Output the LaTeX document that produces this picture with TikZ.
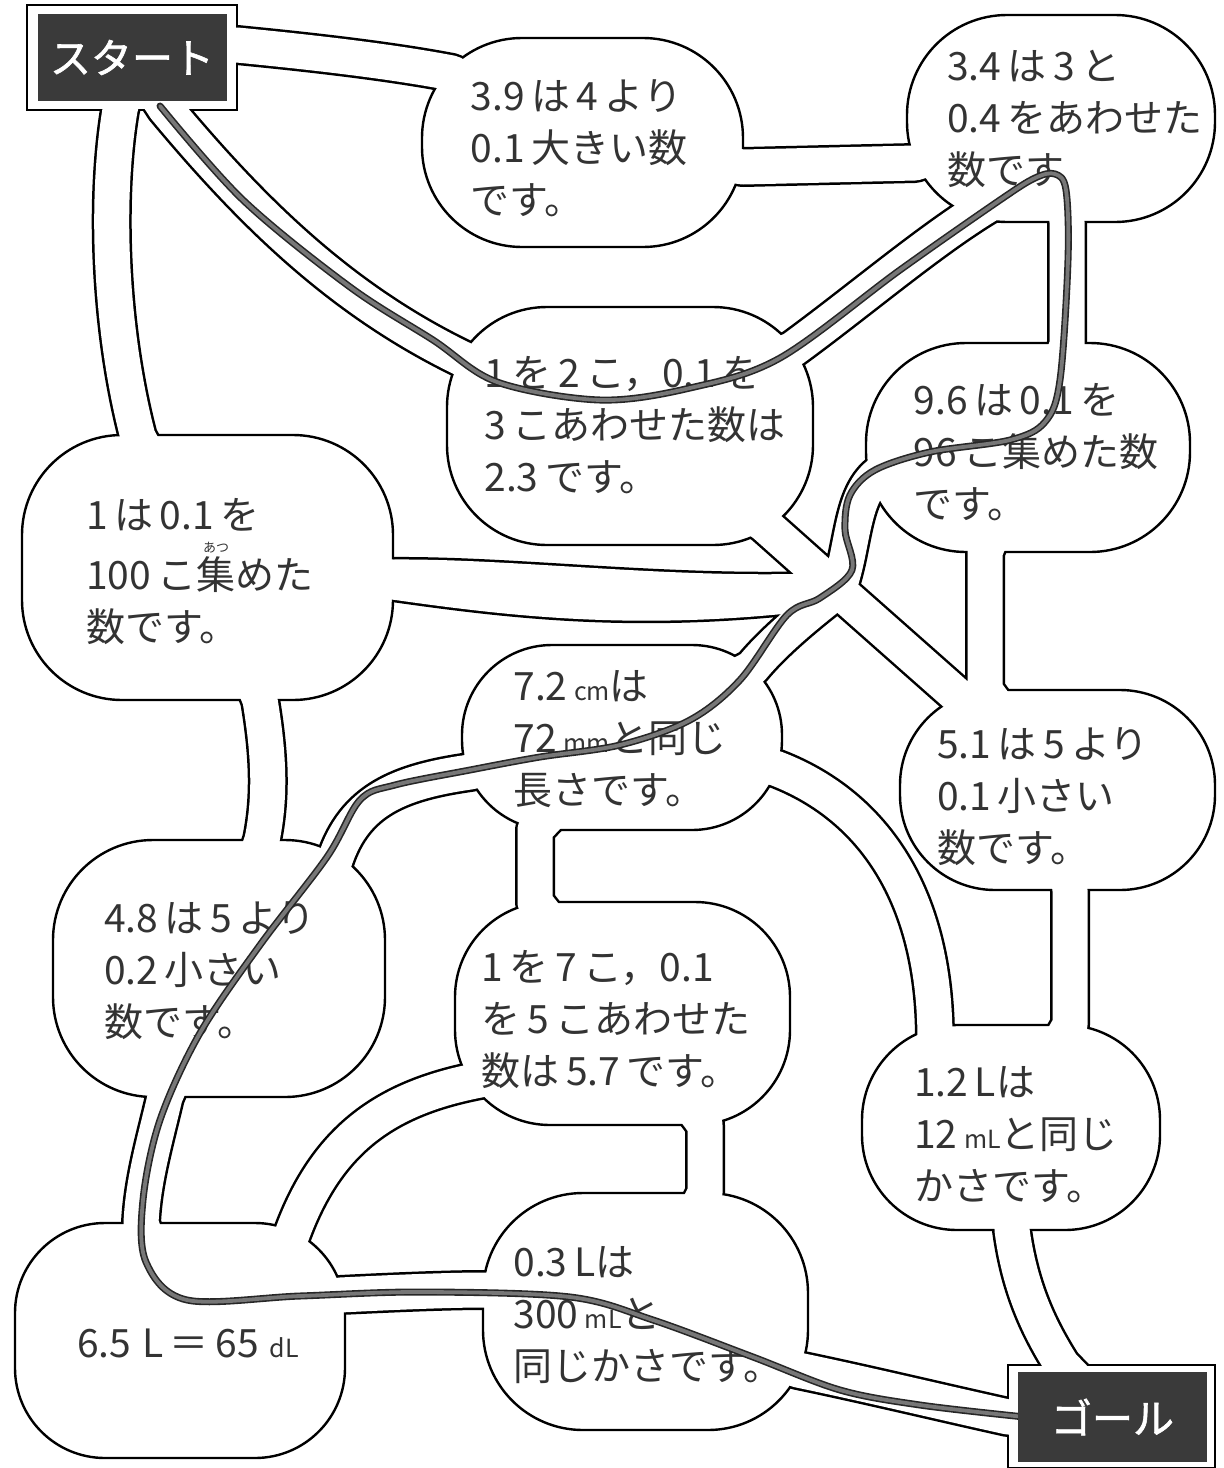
\documentclass[tikz,border=0pt]{standalone}
\usepackage{fontspec}
\newfontfamily\jpf{Noto Sans CJK JP}
\newfontfamily\jpbf[FakeBold=1.5]{Noto Sans CJK JP}
\usetikzlibrary{calc}
\definecolor{mzInk}  {HTML}{333333}
\definecolor{mzPlate}{HTML}{3A3A3A}
\definecolor{mzRoute}{HTML}{777777}
\pgfdeclarelayer{edges}
\pgfdeclarelayer{lanes}
\pgfdeclarelayer{labels}
\pgfsetlayers{edges,main,lanes,labels}
\newcommand{\mzunit}[1]{{\fontsize{25}{25}\selectfont #1}}
\newcommand{\mzruby}[2]{\leavevmode\rlap{\makebox[1em]{\raisebox{0.95em}{\fontsize{13}{13}\selectfont #2}}}#1}
% all roads of the maze, drawn twice (black edge, white lane)
\newcommand{\mzroads}{%
  (start.center) -- (237,45) .. controls (330,54) and (400,63) .. (452,73) -- (q39.center)
  (q39.center) -- (743,167) -- (915,163) -- (q34.center)
  (start.center) -- (120,110) .. controls (105,200) and (110,330) .. (138,437) -- (q100.center)
  (start.center) -- (165,108) .. controls (250,210) and (340,300) .. (465,360) -- (q23.center)
  (q23.center) -- (793,349) .. controls (860,300) and (930,240) .. (988,205) -- (q34.center)
  (q34.center) -- (1067,222) -- (1067,345) -- (q96.center)
  (q96.center) -- (885,470) .. controls (850,490) and (855,545) .. (hub)
  (q23.center) -- (765,525) -- (hub)
  (q100.center) -- (393,577) .. controls (520,576) and (680,598) .. (hub)
  (q100.center) -- (393,582) .. controls (520,600) and (650,615) .. (hub)
  (hub) .. controls (810,612) and (775,640) .. (752,668) -- (q72.center)
  (hub) -- (968,705) -- (q51.center)
  (q96.center) -- (985,552) -- (985,690) -- (q51.center)
  (q51.center) -- (1070,890) -- (1070,1025) -- (q12.center)
  (q72.center) -- (535,830) -- (535,902) -- (q57.center)
  (q72.center) -- (775,768) .. controls (860,800) and (935,880) .. (935,1040) -- (q12.center)
  (q72.center) -- (470,772) .. controls (400,782) and (355,800) .. (335,860) -- (q48.center)
  (q100.center) -- (260,700) .. controls (270,760) and (270,800) .. (262,840) -- (q48.center)
  (q48.center) -- (165,1097) .. controls (155,1140) and (143,1180) .. (141,1223) -- (q65.center)
  (q57.center) -- (480,1080) .. controls (385,1098) and (325,1140) .. (290,1240) -- (q65.center)
  (q65.center) -- (340,1295) .. controls (400,1292) and (450,1290) .. (485,1290) -- (q03.center)
  (q57.center) -- (705,1125) -- (705,1193) -- (q03.center)
  (q03.center) -- (798,1370) .. controls (870,1385) and (940,1402) .. (1008,1417) -- (goal.center)
  (q12.center) -- (1012,1230) .. controls (1020,1290) and (1040,1330) .. (1062,1365) -- (goal.center)}

\begin{document}
\begin{tikzpicture}[x=1pt,y=-1pt,
    bubble/.style={draw=black,line width=2.4,fill=white,rounded corners=#1,inner sep=0,outer sep=0},
    frame/.style={draw=black,line width=2.4,fill=white,inner sep=0,outer sep=0},
    plate/.style={fill=mzPlate,text=white,font=\jpbf\fontsize{41}{41}\selectfont,inner sep=0,outer sep=0},
    quiz/.style={font=\jpf\fontsize{39}{52}\selectfont,text=mzInk,align=left,inner sep=0},
    laneedge/.style={draw=black,line width=40,line join=round,line cap=round},
    lanefill/.style={draw=white,line width=35,line join=round,line cap=round},
    route/.style={draw=black!85,line width=1.6,double=mzRoute,double distance=3.8,line join=round,line cap=round}]
  \useasboundingbox (0,0) rectangle (1224,1468);
  \begin{pgfonlayer}{edges}
    \fill[white] (0,0) rectangle (1224,1468);
  \end{pgfonlayer}

  % start / goal frames
  \node[frame,minimum width=210,minimum height=105] (start) at (132,57.5) {};
  \node[frame,minimum width=207,minimum height=103] (goal) at (1111.5,1416.5) {};

  % bubbles
  \node[bubble=100,minimum width=321,minimum height=209] (q39)  at (582.5,142.5) {};
  \node[bubble=100,minimum width=308,minimum height=207] (q34)  at (1061,118.5) {};
  \node[bubble=100,minimum width=366,minimum height=238] (q23)  at (630,426) {};
  \node[bubble=100,minimum width=324,minimum height=209] (q96)  at (1028,447.5) {};
  \node[bubble=100,minimum width=371,minimum height=265] (q100) at (207.5,567.5) {};
  \node[bubble=90, minimum width=320,minimum height=185] (q72)  at (622,737.5) {};
  \node[bubble=95, minimum width=315,minimum height=200] (q51)  at (1057.5,790) {};
  \node[bubble=100,minimum width=332,minimum height=257] (q48)  at (219,968.5) {};
  \node[bubble=95, minimum width=335,minimum height=223] (q57)  at (622.5,1013.5) {};
  \node[bubble=95, minimum width=298,minimum height=205] (q12)  at (1011,1127.5) {};
  \node[bubble=100,minimum width=325,minimum height=237] (q03)  at (645.5,1311.5) {};
  \node[bubble=90, minimum width=330,minimum height=235] (q65)  at (180,1340.5) {};
  \coordinate (hub) at (838,590);

  % roads
  \begin{pgfonlayer}{edges}
    \draw[laneedge] \mzroads;
  \end{pgfonlayer}
  \begin{pgfonlayer}{lanes}
    \draw[lanefill] \mzroads;
  \end{pgfonlayer}

  \begin{pgfonlayer}{labels}
    \node[quiz] (t39)  at (579,148)  {3.9\,は\,4\,より\\0.1\,大きい数\\です。};
    \node[quiz] (t34)  at (1075,119) {3.4\,は\,3\,と\\0.4\,をあわせた\\数です};
    \node[quiz] (t23)  at (635,425)  {1\,を\,2\,こ，0.1\,を\\3\,こあわせた数は\\2.3\,です。};
    \node[quiz] (t96)  at (1036,452) {9.6\,は\,0.1\,を\\96\,こ集めた数\\です。};
    \node[quiz] (t100) at (200,572)  {1\,は\,0.1\,を\\[8pt]100\,こ\mzruby{集}{あつ}めた\\数です。};
    \node[quiz] (t72)  at (620,739)  {7.2\,\mzunit{cm}は\\72\,\mzunit{mm}と同じ\\長さです。};
    \node[quiz] (t51)  at (1043,797) {5.1\,は\,5\,より\\0.1\,小さい\\数です。};
    \node[quiz] (t48)  at (210,971)  {4.8\,は\,5\,より\\0.2\,小さい\\数です。};
    \node[quiz] (t57)  at (616,1020) {1\,を\,7\,こ，0.1\\を\,5\,こあわせた\\数は\,5.7\,です。};
    \node[quiz] (t12)  at (1016,1135) {1.2\,Lは\\12\,\mzunit{mL}と同じ\\かさです。};
    \node[quiz] (t03)  at (648,1315) {0.3\,Lは\\300\,\mzunit{mL}と\\同じかさです。};
    \node[quiz] (t65)  at (188,1343) {6.5\;L\,＝\,65\;\mzunit{dL}};

    % the way through
    \draw[route] plot[smooth,tension=0.55] coordinates {
      ($(start.south)+(28,-4)$) (243,200) (350,287) (433,340) (497,382) (600,400)
      (690,388) (780,358) (900,270) (1000,200) (1035,178) (1055,174) (1066,190)
      (1068,260) (1060,380) (1045,422) (1010,440) (930,452) (875,470) (850,495)
      (845,530) (852,570) (820,598) (787,615) (740,680) (690,720) (620,745)
      (540,757) (470,770) (395,785) (360,800) (327,857) (260,945) (200,1033)
      (160,1120) (143,1200) (146,1262) (187,1300) (300,1296) (420,1292)
      (570,1297) (653,1320) (753,1357) (840,1390) (920,1405) ($(goal.west)+(12,0)$)};

    \node[plate,minimum width=189,minimum height=87] (startplate) at (start.center) {スタート};
    \node[plate,minimum width=189,minimum height=90] (goalplate) at ($(goal.center)+(1,0.5)$) {ゴール};
  \end{pgfonlayer}
\end{tikzpicture}
\end{document}
